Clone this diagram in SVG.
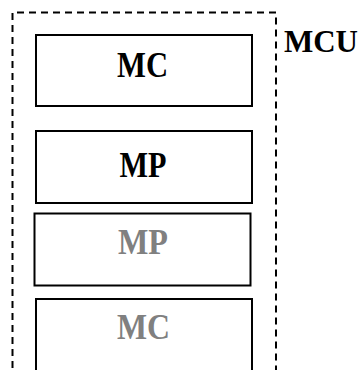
<svg xmlns="http://www.w3.org/2000/svg" width="360" height="370" viewBox="0 0 360 370">
<style>
.box{fill:#fff;stroke:#000;stroke-width:2}
.lbl{font-family:"Liberation Serif","Times New Roman",serif;font-weight:bold;font-size:35px;text-anchor:middle}
.dark{fill:#000}
.gray{fill:#808080}
</style>
<rect width="360" height="370" fill="#fff"/>
<g id="mcu">
<path d="M12.5,380 V12.5 H276 V380" fill="none" stroke="#000" stroke-width="2" stroke-dasharray="7 5"/>
<text x="321" y="52" class="lbl dark" style="font-size:31px">MCU</text>
</g>
<g id="mc1">
<rect class="box" x="36" y="35" width="216" height="71"/>
<text x="142.5" y="77" class="lbl dark" textLength="51" lengthAdjust="spacingAndGlyphs">MC</text>
</g>
<g id="mp1">
<rect class="box" x="36" y="131" width="216" height="72"/>
<text x="143" y="177" class="lbl dark" textLength="47" lengthAdjust="spacingAndGlyphs">MP</text>
</g>
<g id="mp2">
<rect class="box" x="34.5" y="213.5" width="216" height="72"/>
<text x="143" y="254" class="lbl gray" textLength="50" lengthAdjust="spacingAndGlyphs">MP</text>
</g>
<g id="mc2">
<rect class="box" x="36" y="299" width="216" height="90"/>
<text x="143.5" y="339" class="lbl gray" textLength="53" lengthAdjust="spacingAndGlyphs">MC</text>
</g>
<g id="connectors"></g>
</svg>
